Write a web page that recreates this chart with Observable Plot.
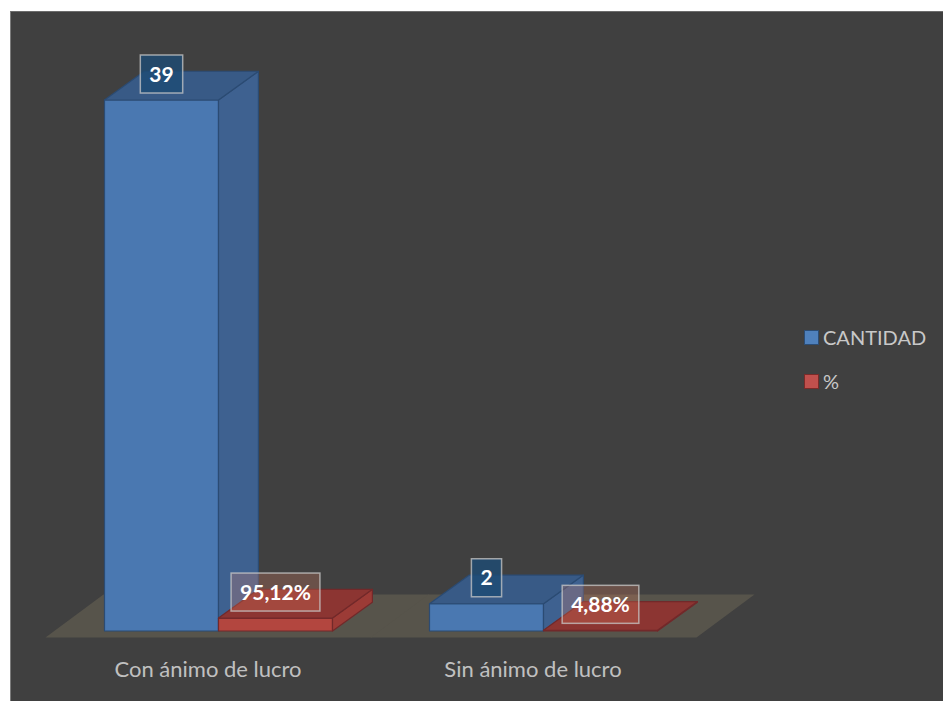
<!DOCTYPE html>
<html><head><meta charset="utf-8">
<script src="https://cdn.jsdelivr.net/npm/d3@7"></script>
<script src="https://cdn.jsdelivr.net/npm/@observablehq/plot@0.6"></script>
<style>
html,body{margin:0;padding:0;background:#fff;}
#wrap{position:relative;width:943px;height:701px;overflow:hidden;font-family:Lato,"Open Sans",sans-serif;}
#panel{position:absolute;left:10px;top:11px;width:933px;height:690px;background:#404040;border-left:1px solid #7c7c7c;border-top:1px solid #6c6c6c;box-sizing:border-box;}
#chart{position:absolute;left:0;top:0;}
#legend{position:absolute;left:804px;top:326px;}
.lg{display:flex;align-items:center;height:22px;margin-bottom:22px;color:#c8c8c8;font-size:20px;}
.sw{display:inline-block;width:15px;height:15px;box-sizing:border-box;border:1.5px solid;margin-right:4px;}
</style></head>
<body><div id="wrap"><div id="panel"></div><div id="chart"></div><div id="legend"></div></div>
<script>
// ---- data ----
const categories = ["Con ánimo de lucro", "Sin ánimo de lucro"];
const seriesNames = ["CANTIDAD", "%"];
const cantidad = [39, 2];
const porcentaje = [0.9512, 0.0488];

// ---- styles ----
const faceColors = {
  "CANTIDAD": {front: "#4a78b1", top: "#385a86", side: "#3e6190", edge: "#2b4b73", swatch: "#4f81bd", swEdge: "#2c4d75", box: "rgba(29,75,116,0.8)"},
  "%": {front: "#b3463f", top: "#8c3532", side: "#9c3b36", edge: "#72292a", swatch: "#c0504d", swEdge: "#7a2b29", box: "rgba(230,130,100,0.25)"}
};

const fmtPct = v => (v * 100).toFixed(2).replace(".", ",") + "%";
const data = categories.flatMap((c, i) => [
  {category: c, series: seriesNames[0], value: cantidad[i], label: String(cantidad[i])},
  {category: c, series: seriesNames[1], value: porcentaje[i], label: fmtPct(porcentaje[i])}
]);

const depth = bw => [bw * 0.35, -bw * 0.35 * 0.72];

function bandOf(scales) {
  return scales.x.bandwidth ? scales.x.bandwidth() : (scales.x(seriesNames[1]) - scales.x(seriesNames[0]));
}

function floorRender(index, scales, values, dims) {
  const g = d3.create("svg:g");
  const [r0, r1] = scales.x.range();
  const y0 = scales.y(0);
  const fx = -10, fy = 6.5, ddx = 58, ddy = -43;
  const a = [r0 + fx - 0.5, y0 + fy], b = [r1 + fx + 0.5, y0 + fy], c = [r1 + fx + ddx + 0.5, y0 + fy + ddy], d = [r0 + fx + ddx - 0.5, y0 + fy + ddy];
  g.append("path").attr("d", `M${a}L${b}L${c}L${d}Z`).attr("fill", "#57544b");
  return g.node();
}

function bar3d(index, scales, values, dims) {
  const g = d3.create("svg:g");
  const bw = bandOf(scales);
  const [dx, dy] = depth(bw);
  for (const i of index) {
    const col = faceColors[data[i].series];
    const x0 = scales.x(data[i].series), x1 = x0 + bw;
    const yb = scales.y(0), yt = scales.y(data[i].value);
    const P = pts => "M" + pts.map(p => p.join(",")).join("L") + "Z";
    g.append("path").attr("d", P([[x0, yb], [x1, yb], [x1, yt], [x0, yt]]))
      .attr("fill", col.front).attr("stroke", col.edge).attr("stroke-width", 1.2).attr("stroke-linejoin", "round");
    g.append("path").attr("d", P([[x1, yb], [x1 + dx, yb + dy], [x1 + dx, yt + dy], [x1, yt]]))
      .attr("fill", col.side).attr("stroke", col.edge).attr("stroke-width", 1.2).attr("stroke-linejoin", "round");
    g.append("path").attr("d", P([[x0, yt], [x1, yt], [x1 + dx, yt + dy], [x0 + dx, yt + dy]]))
      .attr("fill", col.top).attr("stroke", col.edge).attr("stroke-width", 1.2).attr("stroke-linejoin", "round");
  }
  return g.node();
}

const ctx = document.createElement("canvas").getContext("2d");
const labelSize = 21;
const labelFont = `bold ${labelSize}px Lato`;
function labelRender(index, scales, values, dims) {
  const g = d3.create("svg:g");
  const bw = bandOf(scales);
  ctx.font = labelFont;
  for (const i of index) {
    const col = faceColors[data[i].series];
    const cx = scales.x(data[i].series) + bw / 2;
    const cy = scales.y(data[i].value) - 26;
    const w = ctx.measureText(data[i].label).width + 18, h = 38;
    g.append("rect").attr("x", cx - w / 2).attr("y", cy - h / 2).attr("width", w).attr("height", h)
      .attr("fill", col.box).attr("stroke", "rgba(200,200,200,0.75)").attr("stroke-width", 1.5);
    g.append("text").attr("x", cx).attr("y", cy).attr("dy", "0.36em").attr("text-anchor", "middle")
      .attr("fill", "#ffffff").attr("font-family", "Lato").attr("font-weight", "bold").attr("font-size", labelSize)
      .text(data[i].label);
  }
  return g.node();
}

const plot = Plot.plot({
  width: 943, height: 701,
  marginLeft: 55.5, marginRight: 237.5, marginTop: 100, marginBottom: 70,
  style: {background: "transparent", color: "#c0c0c0", fontFamily: "Lato, sans-serif", fontSize: "22px"},
  fx: {domain: categories, padding: 0, label: null},
  x: {domain: seriesNames, paddingInner: 0, paddingOuter: 0.4254, axis: null},
  y: {domain: [0, 39], axis: null},
  marks: [
    Plot.ruleY(categories, {fx: d => d, y: () => 0, render: floorRender}),
    Plot.barY(data, {fx: "category", x: "series", y: "value", render: bar3d}),
    Plot.text(data, {fx: "category", x: "series", y: "value", text: "label", render: labelRender}),
    Plot.axisFx({anchor: "bottom", label: null, tickSize: 0, tickPadding: 30, fontSize: 22, dx: -11})
  ]
});
document.getElementById("chart").appendChild(plot);

const leg = d3.select("#legend");
seriesNames.forEach(s => {
  const row = leg.append("div").attr("class", "lg");
  row.append("span").attr("class", "sw").style("background", faceColors[s].swatch).style("border-color", faceColors[s].swEdge);
  row.append("span").text(s);
});
</script>
</body></html>
